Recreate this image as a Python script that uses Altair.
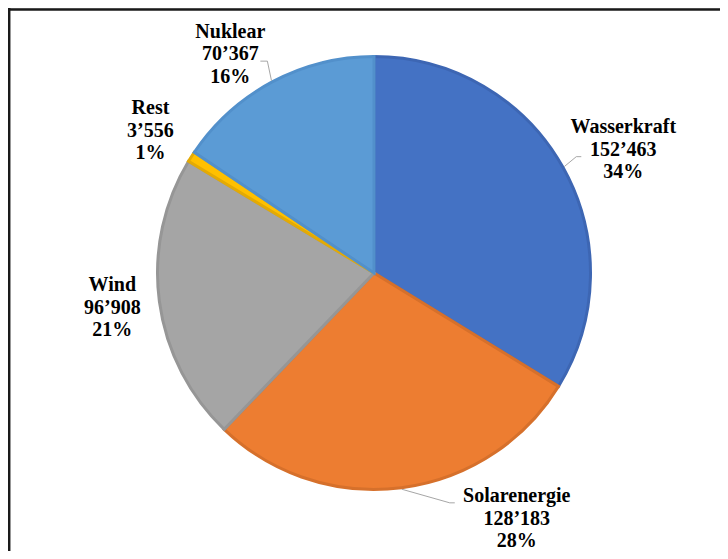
import math
import altair as alt
import pandas as pd

# ---- data ----
categories = ["Wasserkraft", "Solarenergie", "Wind", "Rest", "Nuklear"]
values = [152463, 128183, 96908, 3556, 70367]
fill_colors = ["#4472C4", "#ED7D31", "#A5A5A5", "#FFC000", "#5B9BD5"]
stroke_colors = ["#3D66B3", "#D6702B", "#969696", "#E3AA05", "#5290CB"]

# ---- layout ----
W, H = 712, 543
CX, CY = 366, 265          # pie centre (chart coords)
R_OUT = 216.5
LABEL_R = 265
LINE_H = 22.5
label_nudge = {"Wasserkraft": (18, 6), "Solarenergie": (109, -17), "Wind": (1, 0),
               "Rest": (0, 0), "Nuklear": (-19, 15)}
# leader: (elbow offset, end offset) relative to label centre
leader_layout = {"Wasserkraft": ((-47, 7), (-42, 7)),
                 "Solarenergie": ((-67, -16), (-62, -16)),
                 "Nuklear": ((37, 7), (30, 7))}

total = sum(values)


def fmt(v):
    return f"{v:,}".replace(",", "\u2019")


rows, lab_rows, lead_rows = [], [], []
cum = 0
for i, (c, v) in enumerate(zip(categories, values)):
    mid = (cum + v / 2) / total * 2 * math.pi
    cum += v
    pct = round(v * 100 / total)
    rows.append({"category": c, "value": v, "order": i})
    nx, ny = label_nudge[c]
    lx = CX + LABEL_R * math.sin(mid) + nx
    ly = CY - LABEL_R * math.cos(mid) + ny
    lab_rows.append({"category": c, "text": f"{c}\n{fmt(v)}\n{pct}%", "x": lx, "y": ly})
    if c in leader_layout:
        (ex, ey), (tx, ty) = leader_layout[c]
        pts = [(CX + (R_OUT + 1.5) * math.sin(mid), CY - (R_OUT + 1.5) * math.cos(mid)),
               (lx + ex, ly + ey), (lx + tx, ly + ty)]
        for k, (px, py) in enumerate(pts):
            lead_rows.append({"category": c, "idx": k, "x": px, "y": py})

df = pd.DataFrame(rows)
df_lab = pd.DataFrame(lab_rows)
df_lead = pd.DataFrame(lead_rows)
one = pd.DataFrame({"a": [0]})

pie = alt.Chart(df).mark_arc(outerRadius=R_OUT, strokeWidth=3).encode(
    theta=alt.Theta("value:Q", stack=True),
    order=alt.Order("order:Q"),
    color=alt.Color("category:N", scale=alt.Scale(domain=categories, range=fill_colors), legend=None),
    stroke=alt.Stroke("category:N", scale=alt.Scale(domain=categories, range=stroke_colors), legend=None),
    x=alt.value(CX), y=alt.value(CY),
)

leaders = alt.Chart(df_lead).mark_line(color="#A6A6A6", strokeWidth=1).encode(
    x=alt.X("x:Q", scale=None, axis=None),
    y=alt.Y("y:Q", scale=None, axis=None),
    detail="category:N",
    order="idx:Q",
)

labels = alt.Chart(df_lab).mark_text(
    font="serif", fontWeight="bold",
    fontSize=20, lineHeight=LINE_H, dy=-LINE_H,
    lineBreak="\n", align="center", baseline="middle", color="#000000",
).encode(
    x=alt.X("x:Q", scale=None, axis=None),
    y=alt.Y("y:Q", scale=None, axis=None),
    text="text:N",
)

frame_top = alt.Chart(one).mark_rule(color="#1a1a1a", strokeWidth=2.5).encode(
    x=alt.value(0), x2=alt.value(W), y=alt.value(1.5))
frame_left = alt.Chart(one).mark_rule(color="#1a1a1a", strokeWidth=2.5).encode(
    x=alt.value(1.2), y=alt.value(0), y2=alt.value(H))

chart = alt.layer(pie, leaders, labels, frame_top, frame_left).properties(
    width=W, height=H, padding=0, autosize=alt.AutoSizeParams(type="none"),
).configure_view(stroke=None).configure(background="white")

chart.save("out.html", embed_options={"renderer": "svg", "actions": False})
